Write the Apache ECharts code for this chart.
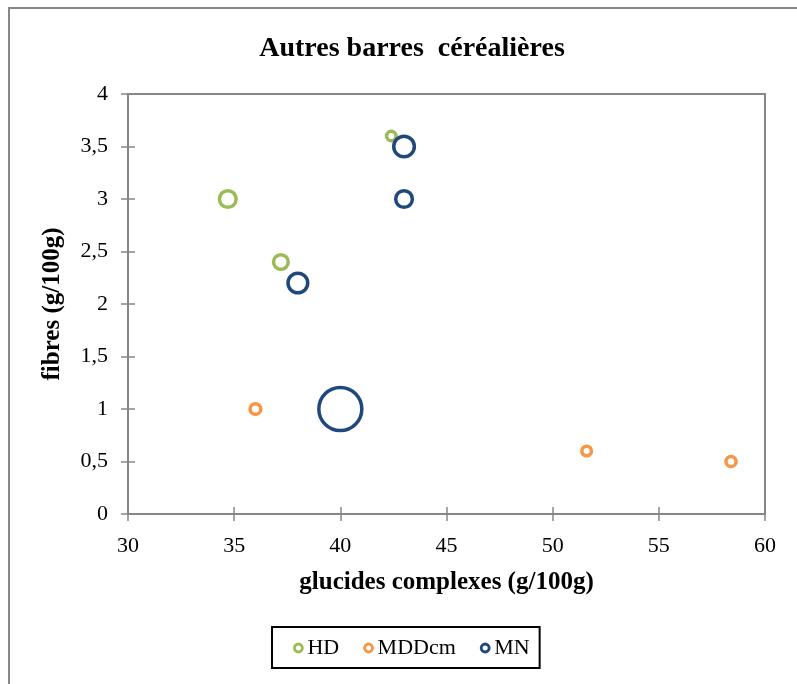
<!DOCTYPE html>
<html>
<head>
<meta charset="utf-8">
<style>
  html, body { margin: 0; padding: 0; background: #fff; }
  #chart { width: 797px; height: 684px; }
</style>
<script src="https://cdn.jsdelivr.net/npm/echarts@6/dist/echarts.min.js"></script>
</head>
<body>
<div id="chart"></div>
<script>
// Bubble data: x = glucides complexes, y = fibres, size = bubble weight
const hdX = [34.7, 37.2, 42.4];
const hdY = [3.0, 2.4, 3.6];
const hdSize = [15, 11.7, 4.8];

const mddX = [36.0, 51.6, 58.4];
const mddY = [1.0, 0.6, 0.5];
const mddSize = [6.2, 5, 5.6];

const mnX = [43.0, 43.0, 38.0, 40.0];
const mnY = [3.5, 3.0, 2.2, 1.0];
const mnSize = [23, 15, 21, 100];

const seriesNames = ['HD', 'MDDcm', 'MN'];
const seriesColors = ['#9BBB59', '#F79646', '#1F497D'];

const xTicks = { min: 30, max: 60, interval: 5 };
const yTicks = { min: 0, max: 4, interval: 0.5 };

const FONT = 'Liberation Serif';
const AXIS_GRAY = '#878787';

function zip(xs, ys, ss) {
  return xs.map((x, i) => [x, ys[i], ss[i]]);
}
const datasets = [zip(hdX, hdY, hdSize), zip(mddX, mddY, mddSize), zip(mnX, mnY, mnSize)];

const fmtComma = v => String(v).replace('.', ',');

const chart = echarts.init(document.getElementById('chart'), null, { renderer: 'canvas' });

const tickHalf = 7;

chart.setOption({
  animation: false,
  backgroundColor: '#fff',
  title: {
    text: 'Autres barres  céréalières',
    left: 407, top: 30,
    textAlign: 'center',
    textStyle: { fontFamily: FONT, fontWeight: 'bold', fontSize: 28, color: '#000' }
  },
  graphic: [{
    type: 'rect',
    shape: { x: 9, y: 8, width: 800, height: 700 },
    style: { fill: 'none', stroke: AXIS_GRAY, lineWidth: 2 },
    silent: true
  }],
  legend: {
    data: seriesNames.map((name, i) => ({
      name,
      itemStyle: { color: '#fff', borderColor: seriesColors[i], borderWidth: 2.8 }
    })),
    left: 272, top: 627,
    width: 271, height: 43,
    padding: [10, 10, 9, 21],
    itemGap: 24,
    itemWidth: 8, itemHeight: 8,
    icon: 'circle',
    borderColor: '#000', borderWidth: 2,
    textStyle: { fontFamily: FONT, fontSize: 22, color: '#000' }
  },
  grid: {
    left: 128, right: 32, top: 94, bottom: 170,
    show: true, borderColor: AXIS_GRAY, borderWidth: 2,
    backgroundColor: 'transparent'
  },
  xAxis: [{
    type: 'value', min: xTicks.min, max: xTicks.max, interval: xTicks.interval,
    position: 'bottom',
    name: 'glucides complexes (g/100g)',
    nameLocation: 'middle', nameGap: 56,
    nameTextStyle: { fontFamily: FONT, fontWeight: 'bold', fontSize: 25, color: '#000' },
    axisLine: { show: true, lineStyle: { color: AXIS_GRAY, width: 2 } },
    axisTick: { show: true, length: tickHalf, lineStyle: { color: AXIS_GRAY, width: 1.5 } },
    axisLabel: { fontFamily: FONT, fontSize: 22, color: '#000', margin: 21 },
    splitLine: { show: false }
  }, {
    type: 'value', min: xTicks.min, max: xTicks.max, interval: xTicks.interval,
    position: 'bottom',
    axisLine: { show: false },
    axisTick: { show: true, inside: true, length: tickHalf, lineStyle: { color: AXIS_GRAY, width: 1.5 } },
    axisLabel: { show: false },
    splitLine: { show: false }
  }],
  yAxis: [{
    type: 'value', min: yTicks.min, max: yTicks.max, interval: yTicks.interval,
    position: 'left',
    name: 'fibres (g/100g)',
    nameLocation: 'middle', nameGap: 63,
    nameTextStyle: { fontFamily: FONT, fontWeight: 'bold', fontSize: 25, color: '#000' },
    axisLine: { show: true, lineStyle: { color: AXIS_GRAY, width: 2 } },
    axisTick: { show: true, length: tickHalf, lineStyle: { color: AXIS_GRAY, width: 1.5 } },
    axisLabel: { fontFamily: FONT, fontSize: 22, color: '#000', margin: 20, formatter: fmtComma },
    splitLine: { show: false }
  }, {
    type: 'value', min: yTicks.min, max: yTicks.max, interval: yTicks.interval,
    position: 'left',
    axisLine: { show: false },
    axisTick: { show: true, inside: true, length: tickHalf, lineStyle: { color: AXIS_GRAY, width: 1.5 } },
    axisLabel: { show: false },
    splitLine: { show: false }
  }],
  series: seriesNames.map((name, i) => ({
    name,
    type: 'scatter',
    xAxisIndex: 0, yAxisIndex: 0,
    data: datasets[i],
    symbol: 'circle',
    symbolSize: v => 4.3 * Math.sqrt(v[2]),
    itemStyle: { color: 'rgba(255,255,255,0)', borderColor: seriesColors[i], borderWidth: 3.5, opacity: 1 },
    emphasis: { disabled: true }
  }))
});
</script>
</body>
</html>
